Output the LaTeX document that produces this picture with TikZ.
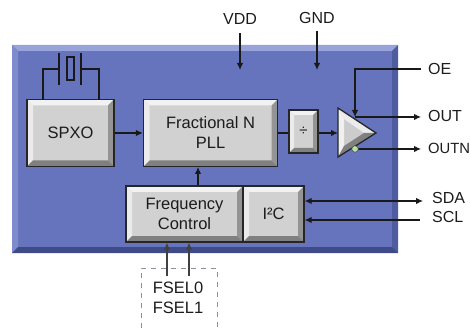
\documentclass[tikz,border=0pt]{standalone}
\usepackage{fontspec}
\setmainfont{Liberation Sans}
\usetikzlibrary{calc,arrows.meta}
\definecolor{facecol}{HTML}{6674BD}
\definecolor{facetop}{HTML}{98A3DA}
\definecolor{faceleft}{HTML}{7F8BCB}
\definecolor{faceright}{HTML}{4F5CA0}
\definecolor{facebot}{HTML}{3F4A88}
\definecolor{okgreen}{HTML}{B9DDA2}
\definecolor{dashcol}{HTML}{8F8CA0}
\definecolor{txt}{HTML}{1C1C1C}
\tikzset{
  bev/.store in=\bevsize, bev=6pt,
  bevel/.style n args={5}{path picture={
    \coordinate (NW) at (path picture bounding box.north west);
    \coordinate (NE) at (path picture bounding box.north east);
    \coordinate (SW) at (path picture bounding box.south west);
    \coordinate (SE) at (path picture bounding box.south east);
    \coordinate (nw) at ([shift={(\bevsize,-\bevsize)}]NW);
    \coordinate (ne) at ([shift={(-\bevsize,-\bevsize)}]NE);
    \coordinate (sw) at ([shift={(\bevsize,\bevsize)}]SW);
    \coordinate (se) at ([shift={(-\bevsize,\bevsize)}]SE);
    \fill[#1] (NW) rectangle (SE);
    \fill[#2] (NW)--(NE)--(ne)--(nw)--cycle;
    \fill[#3] (NW)--(SW)--(sw)--(nw)--cycle;
    \fill[#4] (NE)--(SE)--(se)--(ne)--cycle;
    \fill[#5] (SW)--(SE)--(se)--(sw)--cycle;
  }},
  block/.style={draw=black!85,line width=1.3pt,inner sep=0pt,align=center,text=txt,
    font=\fontsize{16.5}{20}\selectfont,bev=6pt,
    bevel={black!18}{white!95!black}{black!8}{black!42}{black!50}},
  chip/.style={inner sep=0pt,bev=6pt,bevel={facecol}{facetop}{faceleft}{faceright}{facebot}},
  lbl/.style={inner sep=0pt,text=txt,font=\fontsize{16}{20}\selectfont},
  wire/.style={line width=1.1pt,black!90},
  arr/.style={wire,-{Latex[length=7pt,width=6.5pt]}},
  darr/.style={wire,{Latex[length=7pt,width=6.5pt]}-{Latex[length=7pt,width=6.5pt]}},
}
\begin{document}
\begin{tikzpicture}[x=1pt,y=-1pt]
\useasboundingbox (0,0) rectangle (470,328);
\node[chip,minimum width=386pt,minimum height=208pt] (chipbox) at (205,149) {};
\node[block,minimum width=87pt,minimum height=67pt] (spxo) at (70.5,133) {SPXO};
\node[block,minimum width=134pt,minimum height=67pt] (pll) at (210.5,133) {Fractional N\\PLL};
\node[block,minimum width=29pt,minimum height=43pt,bev=5pt] (div) at (303.5,131.5) {\fontsize{15}{15}\selectfont ÷};
\node[block,minimum width=117pt,minimum height=56pt] (freq) at (184.5,214) {Frequency\\Control};
\node[block,minimum width=61pt,minimum height=56pt] (i2c) at (273.5,214) {I²C};
% crystal symbol
\coordinate (pl1a) at (59,53); \coordinate (pl1b) at (59,85);
\coordinate (pl2a) at (81,53); \coordinate (pl2b) at (81,85);
\coordinate (pl1m) at (59,69); \coordinate (pl2m) at (81,69);
\draw[wire] (pl1a)--(pl1b);
\draw[wire] (pl2a)--(pl2b);
\draw[wire] (67,57) rectangle (74,80);
\draw[wire] (pl1m)-|(43,100);
\draw[wire] (pl2m)-|(99,100);
% amplifier
\coordinate (a1) at (338,108); \coordinate (a2) at (376,133); \coordinate (a3) at (338,157);
\coordinate (b1) at (344,119); \coordinate (b2) at (364,133); \coordinate (b3) at (344,146);
\fill[black!20] (a1)--(a2)--(a3)--cycle;
\fill[white!92!black] (a1)--(a2)--(b2)--(b1)--cycle;
\fill[black!6] (a1)--(a3)--(b3)--(b1)--cycle;
\fill[black!50] (a3)--(a2)--(b2)--(b3)--cycle;
\draw[line width=1.3pt,black!85,line join=miter] (a1)--(a2)--(a3)--cycle;
\coordinate (ampin) at (338,133);
\coordinate (oeend) at (355,117);
\coordinate (oecor) at (355,69);
\coordinate (outst) at (355,117);
\coordinate (outnst) at (358,149);
% labels
\node[lbl] (vdd) at (240,19) {VDD};
\node[lbl] (gnd) at (317,18) {GND};
\node[lbl,anchor=west] (oe) at (428,69) {OE};
\node[lbl,anchor=west] (out) at (428,116) {OUT};
\node[lbl,anchor=west,font=\fontsize{14.8}{20}\selectfont] (outn) at (428,148) {OUTN};
\node[lbl,anchor=west] (sda) at (432,198) {SDA};
\node[lbl,anchor=west] (scl) at (432,217) {SCL};
\node[lbl,font=\fontsize{16.5}{20}\selectfont] (fs0) at (178,288) {FSEL0};
\node[lbl,font=\fontsize{16.5}{20}\selectfont] (fs1) at (178,308) {FSEL1};
\coordinate (vddend) at (240,70);
\coordinate (gndend) at (317,70);
\coordinate (vddst) at (240,33);
\coordinate (gndst) at (317,31);
\coordinate (oest) at (421,69);
\coordinate (outend) at (421,117);
\coordinate (outnend) at (421,149);
\coordinate (sdaend) at (423,201);
\coordinate (sclst) at (420,220);
\coordinate (f0st) at (167,276);
\coordinate (f1st) at (189,276);
% dashed box
\draw[dashcol,line width=1pt,dash pattern=on 5pt off 5pt] (141,328)--(141,268)--(217,268)--(217,328);
% connectors
\draw[arr] (vddst)--(vddend);
\draw[arr] (gndst)--(gndend);
\draw[arr] (spxo.east)--(pll.west);
\draw[wire] (pll.east)--(div.west|-pll.east);
\draw[arr] (div.east|-ampin)--(ampin);
\draw[arr] (oest)--(oecor)--(oeend);
\draw[arr] (outst)--(outend);
\draw[arr] (outnst)--(outnend);
\node[circle,fill=okgreen,draw=black!70,line width=.5pt,minimum size=6.5pt,inner sep=0pt] (bub) at (355,149) {};
\draw[arr] (freq.north-|198,186)--(198,167);
\draw[darr] (i2c.east|-sdaend)--(sdaend);
\draw[arr] (sclst)--(i2c.east|-sclst);
\draw[arr,black!75] (f0st)--(freq.south-|f0st);
\draw[arr,black!75] (f1st)--(freq.south-|f1st);
\end{tikzpicture}
\end{document}
